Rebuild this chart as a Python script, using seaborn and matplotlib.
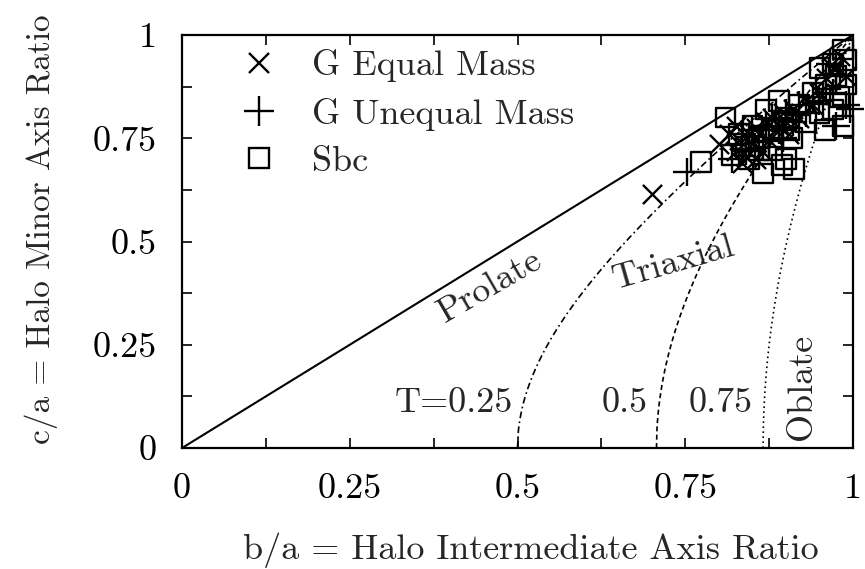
import numpy as np
import pandas as pd
import matplotlib
matplotlib.use('Agg')
import matplotlib.pyplot as plt
from matplotlib.lines import Line2D
import seaborn as sns

# G Equal Mass (x markers): b/a, c/a
equal_b = [0.700, 0.800, 0.815, 0.825, 0.830, 0.840, 0.850, 0.855, 0.860, 0.870, 0.875, 0.880,
           0.890, 0.895, 0.900, 0.910, 0.920, 0.930, 0.940, 0.950, 0.960, 0.970, 0.980, 0.990,
           0.835, 0.845, 0.865, 0.885, 0.905, 0.825, 0.855]
equal_c = [0.615, 0.735, 0.760, 0.720, 0.745, 0.705, 0.735, 0.775, 0.760, 0.790, 0.745, 0.800,
           0.780, 0.810, 0.790, 0.820, 0.800, 0.840, 0.830, 0.860, 0.895, 0.920, 0.950, 0.900,
           0.690, 0.760, 0.720, 0.770, 0.760, 0.780, 0.700]

# G Unequal Mass (+ markers)
unequal_b = [0.752, 0.820, 0.840, 0.860, 0.870, 0.880, 0.890, 0.900, 0.910, 0.920, 0.930,
             0.940, 0.950, 0.960, 0.970, 0.975, 0.980, 0.990, 0.995, 0.965, 0.835, 0.850,
             0.875, 0.895]
unequal_c = [0.668, 0.700, 0.720, 0.740, 0.780, 0.800, 0.770, 0.810, 0.790, 0.830, 0.810,
             0.850, 0.840, 0.870, 0.860, 0.780, 0.900, 0.830, 0.820, 0.930, 0.760, 0.770,
             0.730, 0.750]

# Sbc (open squares)
sbc_b = [0.773, 0.866, 0.894, 0.912, 0.810, 0.830, 0.850, 0.860, 0.870, 0.880, 0.890, 0.900,
         0.910, 0.920, 0.930, 0.940, 0.950, 0.958, 0.960, 0.970, 0.975, 0.980, 0.985, 0.990,
         0.990, 0.950, 0.970, 0.840, 0.820, 0.880, 0.900, 0.985, 0.860, 0.845, 0.905]
sbc_c = [0.693, 0.665, 0.685, 0.675, 0.800, 0.760, 0.780, 0.720, 0.820, 0.770, 0.840, 0.800,
         0.750, 0.830, 0.790, 0.860, 0.810, 0.770, 0.880, 0.930, 0.900, 0.850, 0.780, 0.880,
         0.940, 0.920, 0.820, 0.730, 0.710, 0.720, 0.700, 0.965, 0.750, 0.700, 0.770]

# triaxiality guide curves
t_levels = [0.25, 0.5, 0.75]
t_styles = [(0, (4, 2, 1, 2)), (0, (3, 2)), (0, (1, 2))]
t_labels = ['T=0.25', '0.5', '0.75']
t_label_b = [0.493, 0.694, 0.851]

tick_vals = [0, 0.125, 0.25, 0.375, 0.5, 0.625, 0.75, 0.875, 1]
tick_text = ['0', '', '0.25', '', '0.5', '', '0.75', '', '1']

sns.set_theme(style='ticks')
plt.rcParams['font.family'] = ['cmr10', 'DejaVu Serif']
plt.rcParams['axes.formatter.use_mathtext'] = True
fs = 26

fig = plt.figure(figsize=(8.65, 5.69), dpi=100)
ax = fig.add_axes([182 / 865, 1 - 448 / 569, 671 / 865, 413 / 569])

# prolate diagonal
diag = pd.DataFrame({'b': [0, 1], 'c': [0, 1]})
sns.lineplot(data=diag, x='b', y='c', color='black', lw=1.5, ax=ax, legend=False)

for T, ls in zip(t_levels, t_styles):
    b = np.linspace(np.sqrt(T), 1, 400)
    c = np.sqrt(np.clip((b ** 2 - T) / (1 - T), 0, None))
    curve = pd.DataFrame({'b': b, 'c': c})
    sns.lineplot(data=curve, x='b', y='c', color='black', lw=1.2, ax=ax,
                 legend=False, sort=False, estimator=None)
    ax.lines[-1].set_linestyle(ls)

eq = pd.DataFrame({'b': equal_b, 'c': equal_c})
uq = pd.DataFrame({'b': unequal_b, 'c': unequal_c})
sb = pd.DataFrame({'b': sbc_b, 'c': sbc_c})
sns.scatterplot(data=sb, x='b', y='c', marker='s', s=200, facecolors='none',
                edgecolor='black', linewidth=1.7, ax=ax, legend=False, clip_on=False)
sns.scatterplot(data=eq, x='b', y='c', marker='x', s=190, color='black',
                linewidth=1.7, ax=ax, legend=False, clip_on=False)
sns.scatterplot(data=uq, x='b', y='c', marker='+', s=420, color='black',
                linewidth=1.7, ax=ax, legend=False, clip_on=False)

ax.set_xlim(0, 1)
ax.set_ylim(0, 1)
ax.set_xticks(tick_vals)
ax.set_xticklabels(tick_text)
ax.set_yticks(tick_vals)
ax.set_yticklabels(tick_text)
ax.tick_params(direction='in', length=7, width=1.2, top=True, right=True,
               labelsize=fs, pad=18, colors='black')
for sp in ax.spines.values():
    sp.set_linewidth(1.6)
    sp.set_color('black')

ax.set_xlabel('b/a = Halo Intermediate Axis Ratio', fontsize=fs)
ax.xaxis.set_label_coords(0.52, -0.205)
ax.set_ylabel('c/a = Halo Minor Axis Ratio', fontsize=24, ha='center', va='center')
ax.yaxis.set_label_coords(-0.21, 0.53)

# region labels
ax.text(0.459, 0.39, 'Prolate', fontsize=fs, rotation=30, ha='center', va='center')
ax.text(0.732, 0.448, 'Triaxial', fontsize=fs, rotation=16, ha='center', va='center')
ax.text(0.925, 0.148, 'Oblate', fontsize=fs, rotation=90, ha='center', va='center')
for lab, xb in zip(t_labels, t_label_b):
    ax.text(xb, 0.109, lab, fontsize=fs, ha='right', va='center')

handles = [
    Line2D([], [], marker='x', ls='none', color='black', markersize=14, markeredgewidth=1.7),
    Line2D([], [], marker='+', ls='none', color='black', markersize=21, markeredgewidth=1.7),
    Line2D([], [], marker='s', ls='none', markerfacecolor='none', markeredgecolor='black',
           markersize=14, markeredgewidth=1.7),
]
ax.legend(handles, ['G Equal Mass', 'G Unequal Mass', 'Sbc'], loc='upper left',
          bbox_to_anchor=(0.04, 1.0), frameon=False, fontsize=fs,
          handletextpad=0.45, labelspacing=0.42, borderaxespad=0)

fig.savefig('out.png', dpi=100)
